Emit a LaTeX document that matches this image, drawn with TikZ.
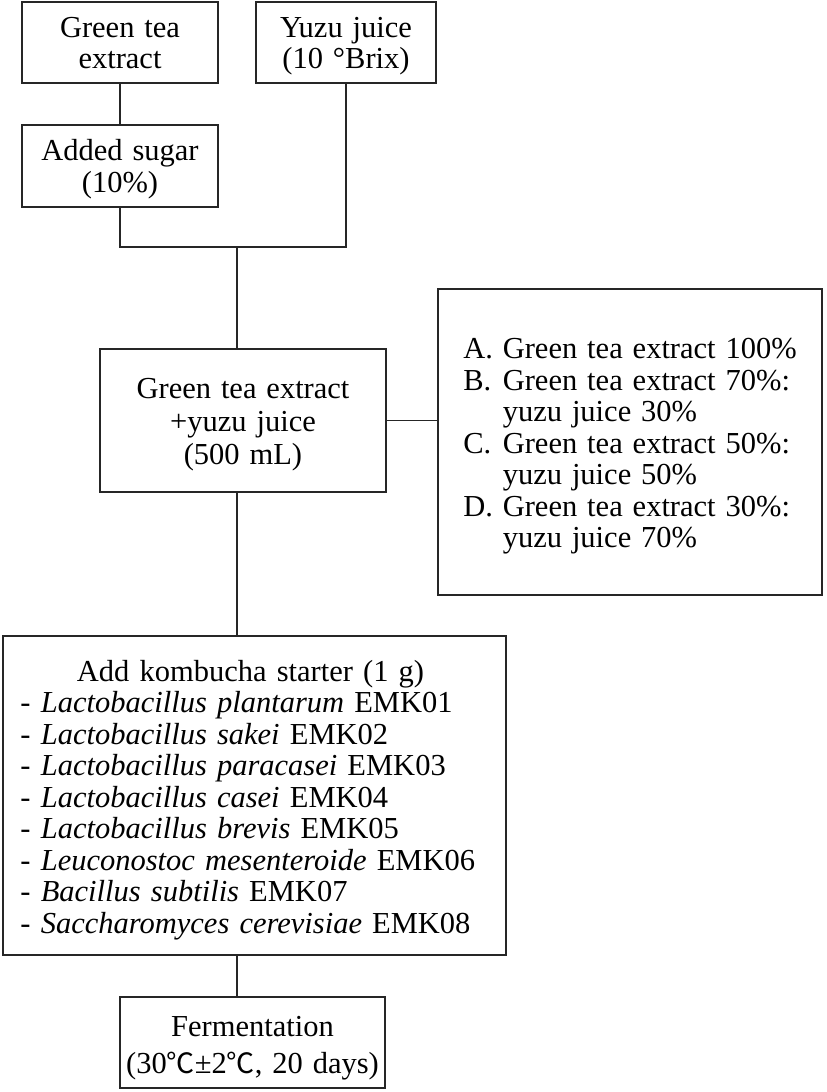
\documentclass[tikz,border=0pt]{standalone}
\usepackage{fontspec}
\setmainfont{Liberation Serif}[WordSpace=1.3]
\newfontfamily\cjk{Noto Sans CJK KR}[Scale=0.92]
\usetikzlibrary{positioning}
\newcommand\sdown[2]{\raisebox{-#1}[\height][\depth]{#2}}
\tikzset{
  box/.style={draw=black!85, line width=1.3bp, inner sep=0pt, align=center,
     font=\fontsize{30.5bp}{31.5bp}\selectfont},
  conn/.style={draw=black!85, line width=1.3bp}
}
\begin{document}
\begin{tikzpicture}[x=1bp,y=-1bp]
\useasboundingbox (0,0) rectangle (827,1092);
\node[box, minimum width=196bp, minimum height=81bp] (gte) at (120,42.5)
  {\sdown{4bp}{\begin{tabular}{@{}c@{}}Green tea\\extract\end{tabular}}};
\node[box, minimum width=180bp, minimum height=81bp] (yuzu) at (346,42.5)
  {\sdown{4bp}{\begin{tabular}{@{}c@{}}Yuzu juice\\(10 °Brix)\end{tabular}}};
\node[box, minimum width=196bp, minimum height=82bp] (sugar) at (120,166)
  {\sdown{4bp}{\begin{tabular}{@{}c@{}}Added sugar\\(10\%)\end{tabular}}};
\node[box, minimum width=286bp, minimum height=143bp] (mix) at (243,420.5)
  {\sdown{5bp}{\begin{tabular}{@{}c@{}}Green tea extract\\[1.5bp]+yuzu juice\\[1.5bp](500 mL)\end{tabular}}};
\node[box, minimum width=384bp, minimum height=306bp] (opts) at (630,442) {%
\sdown{5bp}{\begin{tabular}{@{}l@{\ }l@{}}
A. & Green tea extract 100\%\\
B. & Green tea extract 70\%:\\
   & yuzu juice 30\%\\
C. & Green tea extract 50\%:\\
   & yuzu juice 50\%\\
D. & Green tea extract 30\%:\\
   & yuzu juice 70\%
\end{tabular}}};
\node[box, minimum width=503bp, minimum height=319bp, text width=468bp, align=left,
  execute at begin node={\rule{0pt}{30bp}}] (starter) at (254.5,795.5) {%
\makebox[460bp][c]{Add kombucha starter (1 g)}\\
- \textit{Lactobacillus plantarum} EMK01\\
- \textit{Lactobacillus sakei} EMK02\\
- \textit{Lactobacillus paracasei} EMK03\\
- \textit{Lactobacillus casei} EMK04\\
- \textit{Lactobacillus brevis} EMK05\\
- \textit{Leuconostoc mesenteroide} EMK06\\
- \textit{Bacillus subtilis} EMK07\\
- \textit{Saccharomyces cerevisiae} EMK08};
\node[box, minimum width=265bp, minimum height=91bp] (ferm) at (252.5,1042.5)
  {\sdown{6bp}{\begin{tabular}{@{}c@{}}Fermentation\\[5bp](30{\cjk ℃}±2{\cjk ℃}, 20 days)\end{tabular}}};
\coordinate (j1) at (237,247);
\draw[conn] (gte) -- (sugar);
\draw[conn] (sugar.south) |- (j1);
\draw[conn] (yuzu.south) |- (j1);
\draw[conn] (j1) -- (j1 |- mix.north);
\draw[conn] (mix.east) -- (mix.east -| opts.west);
\draw[conn] (j1 |- mix.south) -- (j1 |- starter.north);
\draw[conn] (j1 |- starter.south) -- (j1 |- ferm.north);
\end{tikzpicture}
\end{document}
